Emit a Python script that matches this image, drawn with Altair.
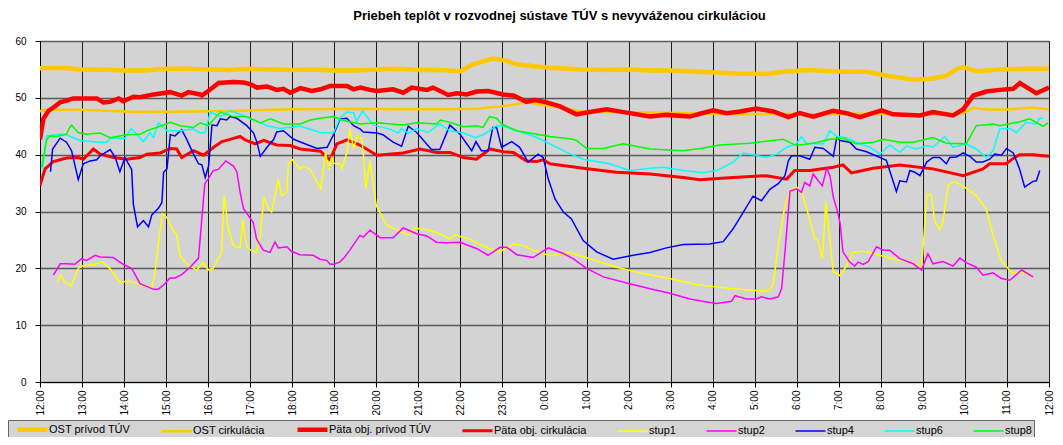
import json
import altair as alt
import pandas as pd

TITLE = "Priebeh teplôt v rozvodnej sústave TÚV s nevyváženou cirkuláciou"
SERIES = ["OST prívod TÚV", "OST cirkulácia", "Päta obj. prívod TÚV", "Päta obj. cirkulácia",
          "stup1", "stup2", "stup4", "stup6", "stup8"]
COLORS = ["#FFC800", "#FFC800", "#FF0000", "#FF0000", "#FFFF00", "#FF00FF", "#0000FF", "#00FFFF", "#00FF00"]
WIDTHS = [4.5, 2.5, 4.5, 3.0, 1.5, 1.5, 1.5, 1.5, 1.5]
TICK_LABELS = ["12:00", "13:00", "14:00", "15:00", "16:00", "17:00", "18:00", "19:00", "20:00", "21:00",
               "22:00", "23:00", "0:00", "1:00", "2:00", "3:00", "4:00", "5:00", "6:00", "7:00", "8:00",
               "9:00", "10:00", "11:00", "12:00"]
Y_TICKS = [0, 10, 20, 30, 40, 50, 60]

# hours after 12:00
OST_PRIVOD_H = [0, 0.5, 1, 1.5, 2, 2.5, 3, 3.5, 4, 4.5, 5, 5.5, 6, 6.5, 7, 7.5, 8, 8.5, 9, 9.5,
                10.0, 10.3, 10.78, 11.1, 11.33, 11.7, 12.13, 12.9, 13.5, 14, 14.5, 15, 15.7, 16.49,
                17.28, 17.67, 18.3, 19.1, 19.66, 20.15, 20.77, 21.24, 21.56, 21.8, 21.95, 22.27, 22.83,
                23.5, 24]
OST_PRIVOD_V = [55.2, 55.3, 55.0, 55.0, 54.8, 54.8, 55.1, 55.1, 55.0, 54.9, 55.1, 55.0, 54.9, 55.0,
                54.8, 54.8, 55.0, 55.1, 54.9, 54.9, 54.7, 55.9, 56.9, 56.5, 55.9, 55.6, 55.3, 55.0,
                54.9, 55.0, 54.8, 54.8, 54.6, 54.3, 54.2, 54.6, 54.9, 54.6, 54.6, 53.9, 53.2, 53.4,
                53.9, 55.0, 55.4, 54.7, 55.0, 55.1, 55.1]

OST_CIRK_H = [0, 0.1, 1, 2, 2.5, 3.5, 4.6, 6, 7.6, 8.5, 9.5, 10.4, 11.1, 11.6, 11.9, 12.4, 12.8, 13.5,
              14.5, 15.5, 16.5, 17.5, 18.5, 19.5, 20.5, 21.5, 21.95, 22.2, 22.6, 23.1, 23.6, 24]
OST_CIRK_V = [47.6, 47.9, 47.9, 47.6, 47.5, 47.6, 47.7, 48.0, 48.1, 48.0, 48.0, 48.1, 48.6, 49.2, 48.8,
              48.3, 47.7, 47.5, 47.4, 47.3, 47.1, 47.2, 47.1, 47.2, 47.1, 47.0, 47.3, 48.2, 47.9, 48.0,
              48.3, 48.0]

PATA_PRIVOD_H = [0, 0.08, 0.2, 0.32, 0.48, 0.63, 0.79, 1.35, 1.51, 1.67, 1.87, 1.98, 2.22, 2.38, 2.7,
                 3.1, 3.37, 3.53, 3.81, 3.85, 4.0, 4.25, 4.6, 4.84, 5.0, 5.16, 5.4, 5.63, 5.79, 5.95,
                 6.19, 6.47, 6.67, 6.9, 7.3, 7.46, 7.62, 7.85, 8.01, 8.4, 8.64, 8.84, 9.2, 9.35, 9.71,
                 9.91, 10.15, 10.38, 10.66, 11.02, 11.26, 11.57, 11.77, 12.05, 12.37, 12.76, 13.08,
                 13.48, 13.95, 14.51, 14.9, 15.46, 15.7, 16.01, 16.33, 16.65, 17.04, 17.44, 17.8,
                 18.07, 18.39, 18.87, 19.18, 19.5, 20.02, 20.29, 20.93, 21.24, 21.72, 21.96, 22.2,
                 22.51, 22.83, 23.15, 23.31, 23.7, 24.0]
PATA_PRIVOD_V = [42.7, 46.3, 47.7, 48.3, 49.2, 49.5, 49.9, 49.9, 49.2, 49.3, 49.9, 49.4, 50.2, 50.1,
                 50.6, 51.0, 50.4, 51.0, 50.6, 50.4, 51.2, 52.6, 52.8, 52.7, 52.4, 51.8, 52.0, 51.4,
                 51.6, 50.9, 51.7, 51.2, 51.5, 52.1, 52.1, 51.5, 51.8, 51.4, 51.2, 51.5, 50.9, 51.8,
                 51.4, 51.8, 50.5, 50.8, 50.6, 51.1, 51.2, 50.6, 50.4, 49.3, 49.6, 49.2, 48.5, 47.1,
                 47.5, 48.0, 47.4, 46.7, 47.0, 46.7, 47.2, 47.8, 47.3, 47.6, 48.1, 47.6, 46.6, 47.3,
                 46.7, 47.7, 47.3, 46.6, 47.8, 47.1, 46.9, 47.5, 46.9, 48.0, 50.4, 51.1, 51.4, 51.6,
                 52.6, 50.8, 51.8]

PATA_CIRK_H = [0, 0.12, 0.32, 0.63, 0.91, 1.03, 1.27, 1.43, 1.75, 2.06, 2.38, 2.54, 2.86, 3.1, 3.25,
               3.37, 3.65, 3.89, 4.13, 4.33, 4.52, 4.76, 4.88, 5.12, 5.32, 5.63, 5.95, 6.19, 6.67,
               6.83, 6.9, 7.06, 7.3, 7.61, 8.01, 8.64, 9.04, 9.44, 9.75, 10.07, 10.38, 10.7, 11.02,
               11.26, 11.57, 11.81, 11.97, 12.13, 12.92, 13.71, 14.51, 15.3, 15.69, 16.49, 17.28,
               17.76, 17.95, 18.31, 18.87, 19.1, 19.3, 19.82, 20.45, 21.24, 21.96, 22.43, 22.59,
               22.98, 23.14, 23.3, 23.62, 24.0]
PATA_CIRK_V = [34.6, 37.5, 38.8, 39.4, 39.5, 39.2, 41.0, 40.1, 39.5, 39.2, 39.5, 40.1, 40.3, 41.1,
               41.0, 39.5, 40.7, 39.9, 41.3, 42.3, 42.7, 43.2, 42.6, 41.9, 42.5, 41.7, 41.6, 41.0,
               40.6, 39.5, 39.1, 41.9, 42.6, 41.7, 39.9, 40.3, 41.0, 40.4, 40.4, 39.5, 39.2, 41.0,
               40.5, 40.4, 38.9, 38.8, 39.1, 38.4, 37.6, 36.9, 36.6, 36.0, 35.6, 36.0, 36.3, 35.7,
               37.2, 37.2, 37.8, 38.2, 36.8, 37.6, 38.2, 37.5, 36.3, 37.5, 38.4, 38.4, 39.3, 40.0,
               40.0, 39.7]

STUP1_H = [0.41, 0.49, 0.59, 0.75, 0.91, 1.03, 1.11, 1.31, 1.47, 1.66, 1.9, 2.02, 2.18, 2.38, 2.66,
           2.73, 2.81, 2.91, 3.01, 3.17, 3.25, 3.33, 3.49, 3.73, 3.88, 4.0, 4.12, 4.32, 4.38, 4.48,
           4.6, 4.76, 4.82, 4.91, 4.99, 5.15, 5.23, 5.33, 5.43, 5.51, 5.67, 5.75, 5.87, 5.91, 5.99,
           6.19, 6.27, 6.43, 6.59, 6.68, 6.79, 6.87, 6.94, 6.98, 7.14, 7.18, 7.3, 7.37, 7.46, 7.54,
           7.65, 7.69, 7.75, 7.85, 8.0, 8.24, 8.4, 8.76, 8.92, 9.2, 9.51, 9.75, 9.87, 10.23, 10.38,
           10.62, 10.9, 11.1, 11.26, 11.49, 11.73, 12.13, 12.6, 13.08, 13.71, 14.34, 14.98, 15.62,
           16.49, 17.28, 17.36, 17.44, 17.56, 17.72, 17.84, 18.0, 18.15, 18.27, 18.43, 18.51, 18.61,
           18.69, 18.87, 19.03, 19.19, 19.34, 19.58, 19.82, 20.13, 20.45, 20.77, 20.97, 21.1, 21.2,
           21.28, 21.39, 21.47, 21.6, 21.76, 22.03, 22.27, 22.5, 22.66, 22.86, 23.13, 23.37, 23.62]
STUP1_V = [17.5, 18.8, 17.6, 16.9, 20.0, 20.5, 20.5, 20.7, 21.2, 20.0, 17.5, 17.7, 17.7, 17.1, 16.7,
           18.8, 24.0, 29.6, 29.0, 26.7, 25.9, 22.2, 20.8, 19.7, 21.0, 19.7, 20.0, 22.8, 32.8, 27.0,
           24.0, 23.6, 28.6, 24.0, 23.3, 22.8, 25.5, 32.5, 30.5, 29.9, 35.7, 32.8, 33.4, 38.5, 39.2,
           37.5, 38.0, 37.4, 35.1, 34.0, 40.3, 37.4, 39.7, 38.5, 38.4, 37.5, 40.4, 44.5, 41.0, 43.3,
           42.8, 40.4, 34.0, 38.9, 31.0, 27.6, 27.1, 25.8, 27.1, 26.8, 26.1, 25.2, 25.9, 25.1, 24.5,
           23.7, 22.9, 23.5, 24.3, 24.0, 23.2, 22.2, 22.8, 21.7, 20.2, 19.1, 18.2, 17.1,
           16.4, 16.0, 16.2, 17.3, 24.0, 31.1, 33.7, 34.3, 32.8, 29.6, 25.2, 24.9, 21.7,
           31.6, 19.4, 18.7, 20.5, 22.8, 23.0, 22.6, 22.0, 21.4, 21.0, 20.2, 33.1, 32.9,
           28.4, 26.9, 27.8, 34.6, 35.3, 34.1, 32.8, 30.5, 26.1, 21.4, 19.1, 19.4, 18.5]

STUP2_H = [0.32, 0.48, 0.63, 0.83, 0.99, 1.11, 1.31, 1.43, 1.74, 1.98, 2.18, 2.38, 2.58, 2.7, 2.81,
           2.93, 3.09, 3.21, 3.37, 3.57, 3.77, 3.92, 4.0, 4.12, 4.24, 4.42, 4.6, 4.68, 4.76, 4.84,
           5.07, 5.15, 5.31, 5.47, 5.59, 5.67, 5.87, 5.98, 6.18, 6.5, 6.66, 6.82, 6.9, 6.98, 7.13,
           7.25, 7.37, 7.61, 7.69, 7.85, 8.09, 8.4, 8.64, 8.96, 9.2, 9.43, 9.67, 9.99, 10.38, 10.66,
           10.94, 11.1, 11.34, 11.73, 12.09, 12.45, 12.68, 13.0, 13.4, 14.03, 14.51, 14.98, 15.46,
           15.93, 16.09, 16.45, 16.53, 16.8, 17.04, 17.16, 17.36, 17.56, 17.64, 17.72, 17.84, 18.0,
           18.11, 18.19, 18.31, 18.39, 18.51, 18.61, 18.71, 18.79, 18.87, 18.95, 19.03, 19.1, 19.26,
           19.38, 19.46, 19.58, 19.7, 19.9, 20.06, 20.21, 20.45, 20.77, 20.97, 21.12, 21.24, 21.48,
           21.72, 21.88, 22.03, 22.27, 22.43, 22.67, 22.87, 23.07, 23.35, 23.62]
STUP2_V = [18.8, 20.8, 20.8, 20.7, 21.7, 21.4, 22.3, 22.0, 21.9, 20.7, 20.0, 17.3, 16.7, 16.3, 16.3,
           17.0, 18.3, 18.3, 18.9, 20.2, 21.8, 34.9, 35.7, 37.2, 37.4, 38.9, 38.0, 37.0, 33.4, 30.5,
           28.1, 25.2, 23.2, 22.8, 24.6, 23.6, 23.8, 23.0, 22.4, 22.3, 21.6, 21.4, 20.7, 20.7, 21.1,
           22.0, 23.2, 25.8, 25.5, 26.7, 25.4, 25.4, 27.1, 26.1, 25.7, 24.6, 24.5, 24.6, 23.5, 22.3,
           23.7, 23.7, 22.4, 21.9, 23.6, 22.6, 21.7, 20.0, 18.5, 17.3, 16.4, 15.6, 14.6,
           14.0, 13.8, 14.2, 15.2, 14.6, 14.6, 15.0, 14.6, 15.0, 16.4, 22.9, 33.6, 34.0,
           33.4, 35.1, 34.5, 36.6, 35.4, 34.5, 37.6, 36.3, 32.5, 30.5, 28.0, 22.9, 21.1,
           20.4, 21.1, 20.7, 21.2, 23.8, 23.2, 23.2, 21.7, 20.8, 19.7, 22.6, 20.8, 21.2,
           20.4, 21.8, 21.0, 20.2, 18.8, 19.2, 18.2, 17.9, 19.7, 18.5]

STUP4_H = [0.25, 0.3, 0.48, 0.63, 0.75, 0.91, 1.03, 1.19, 1.35, 1.43, 1.67, 1.79, 1.9, 2.02, 2.18,
           2.22, 2.32, 2.46, 2.58, 2.66, 2.82, 2.9, 2.94, 3.02, 3.1, 3.21, 3.37, 3.49, 3.65, 3.77,
           3.85, 3.93, 4.01, 4.09, 4.21, 4.29, 4.44, 4.52, 4.68, 4.92, 5.08, 5.16, 5.24, 5.4, 5.56,
           5.63, 5.79, 6.03, 6.27, 6.59, 6.83, 6.98, 7.14, 7.3, 7.46, 7.62, 7.69, 8.01, 8.16, 8.4,
           8.6, 8.76, 8.96, 9.31, 9.51, 9.75, 9.99, 10.27, 10.37, 10.5, 10.66, 10.77, 10.86, 10.98,
           11.22, 11.41, 11.61, 11.85, 11.97, 12.09, 12.25, 12.45, 12.64, 12.92, 13.24, 13.63,
           14.11, 14.51, 14.9, 15.3, 15.93, 16.25, 16.49, 16.73, 16.96, 17.16, 17.36, 17.56, 17.72,
           17.8, 17.88, 18.07, 18.31, 18.43, 18.63, 18.87, 18.95, 19.03, 19.26, 19.42, 19.66,
           19.98, 20.13, 20.25, 20.37, 20.45, 20.61, 20.69, 20.81, 20.93, 21.09, 21.24, 21.4, 21.56,
           21.64, 21.8, 21.96, 22.12, 22.27, 22.43, 22.59, 22.71, 22.87, 22.99, 23.15, 23.3, 23.42,
           23.62, 23.7, 23.78]
STUP4_V = [37.0, 41.0, 42.9, 42.2, 40.7, 35.6, 38.4, 38.9, 39.1, 39.8, 40.9, 39.5, 37.0, 39.5, 37.4,
           31.3, 27.3, 28.4, 27.3, 29.4, 30.6, 31.6, 36.9, 37.5, 43.5, 43.3, 44.4, 42.7, 40.1, 38.4,
           38.2, 36.0, 38.0, 45.2, 45.1, 46.3, 46.1, 46.7, 46.4, 45.1, 43.8, 42.2, 39.7, 41.3, 42.7,
           44.0, 44.2, 42.7, 42.0, 41.1, 41.3, 43.5, 46.3, 46.4, 45.1, 44.5, 44.0, 43.8, 43.5, 42.2,
           41.5, 45.0, 43.9, 40.9, 40.9, 45.2, 43.6, 40.7, 42.3, 40.7, 40.7, 44.8, 44.8, 41.3,
           42.3, 41.3, 38.7, 40.1, 39.5, 35.7, 32.2, 29.9, 28.7, 24.9, 22.9, 21.6,
           22.3, 22.8, 23.6, 24.2, 24.3, 24.7, 27.0, 29.9, 32.7, 31.9, 33.9, 34.9, 36.3,
           38.9, 39.8, 39.8, 39.2, 41.3, 41.1, 39.7, 43.0, 42.5, 42.2, 41.0, 40.5,
           39.5, 39.0, 36.3, 33.5, 35.4, 35.2, 37.2, 36.9, 36.3, 38.7, 39.5, 39.5, 38.4,
           39.5, 39.6, 40.3, 39.7, 38.7, 38.7, 39.2, 40.1, 39.9, 41.1, 40.3, 37.5, 34.3,
           35.3, 35.4, 37.2]

STUP6_H = [0.06, 0.16, 0.48, 0.63, 0.95, 1.43, 1.59, 1.67, 2.02, 2.17, 2.46, 2.62, 2.7, 2.82, 3.02,
           3.33, 3.65, 3.81, 3.93, 4.05, 4.29, 4.52, 4.76, 5.08, 5.4, 5.71, 6.19, 6.67, 6.98, 7.14,
           7.3, 7.46, 7.53, 7.67, 7.93, 8.32, 8.52, 8.6, 8.76, 8.96, 9.23, 9.51, 9.75, 10.07, 10.35,
           10.54, 10.86, 11.02, 11.34, 11.65, 11.97, 12.53, 12.92, 13.55, 14.03, 14.51, 14.82, 15.3,
           15.77, 16.09, 16.49, 16.73, 16.96, 17.28, 17.52, 17.76, 17.99, 18.11, 18.23, 18.63,
           18.79, 18.95, 19.19, 19.5, 19.74, 19.98, 20.21, 20.45, 20.61, 20.85, 21.09, 21.24, 21.52,
           21.72, 22.03, 22.27, 22.51, 22.67, 22.83, 23.07, 23.23, 23.46, 23.7, 23.78, 23.86]
STUP6_V = [37.5, 43.3, 43.6, 43.5, 42.5, 42.2, 42.2, 42.9, 42.9, 44.6, 42.3, 43.9, 43.0, 45.6, 44.2,
           44.2, 44.5, 43.8, 43.9, 47.5, 46.7, 47.7, 47.1, 46.1, 45.1, 44.6, 45.0, 43.9, 43.8, 46.5,
           47.5, 47.4, 45.8, 47.7, 45.2, 44.5, 43.8, 44.6, 43.8, 44.6, 43.9, 45.4, 44.2, 43.8, 43.0,
           43.5, 45.1, 45.0, 44.2, 43.5, 42.5, 40.4, 39.2, 38.4, 37.2, 37.6, 37.8, 37.2,
           36.8, 37.2, 38.7, 40.3, 40.0, 39.5, 40.1, 41.3, 41.9, 43.2, 42.0, 41.9,
           44.2, 43.2, 43.0, 41.9, 41.3, 40.1, 41.7, 40.4, 41.5, 41.0, 41.6, 41.3, 43.2,
           41.3, 41.9, 41.0, 39.5, 40.7, 44.5, 44.6, 43.9, 45.7, 45.4, 46.4, 46.4]

STUP8_H = [0.04, 0.16, 0.24, 0.4, 0.63, 0.71, 0.75, 0.91, 1.11, 1.43, 1.67, 2.06, 2.38, 2.54, 2.86,
           3.1, 3.33, 3.65, 3.81, 4.0, 4.29, 4.6, 4.92, 5.24, 5.48, 5.79, 6.19, 6.43, 6.67, 6.98,
           7.22, 7.62, 8.01, 8.64, 8.96, 9.44, 9.52, 9.75, 10.07, 10.38, 10.54, 10.69, 10.86, 10.98,
           11.34, 12.13, 12.68, 12.76, 13.0, 13.4, 13.87, 14.51, 15.3, 15.7, 16.17, 16.88, 17.68,
           17.99, 18.39, 18.79, 19.1, 19.42, 19.82, 20.06, 20.45, 20.77, 21.24, 21.56, 22.03,
           22.27, 22.67, 22.83, 23.3, 23.54, 23.86, 23.98]
STUP8_V = [37.8, 42.7, 43.3, 43.2, 43.6, 44.8, 45.2, 43.9, 43.6, 43.8, 43.0, 43.5, 43.6, 44.2, 45.0,
           45.7, 45.1, 44.8, 45.6, 45.1, 47.5, 46.7, 46.7, 45.6, 46.3, 45.4, 45.4, 46.1, 46.4, 46.7,
           46.0, 45.4, 45.6, 45.2, 45.6, 45.4, 46.1, 45.7, 44.9, 45.1, 44.8, 46.7, 46.4, 45.4,
           44.2, 43.2, 42.7, 42.5, 41.1, 41.1, 41.9, 41.0, 40.7, 41.1, 41.7, 42.0, 42.7,
           41.6, 42.0, 42.7, 42.9, 41.9, 42.2, 42.7, 42.2, 42.2, 43.0, 42.0, 41.9,
           45.1, 45.4, 45.1, 45.8, 46.3, 45.0, 45.6]

SERIES_DATA = [
    (OST_PRIVOD_H, OST_PRIVOD_V), (OST_CIRK_H, OST_CIRK_V),
    (PATA_PRIVOD_H, PATA_PRIVOD_V), (PATA_CIRK_H, PATA_CIRK_V),
    (STUP1_H, STUP1_V), (STUP2_H, STUP2_V), (STUP4_H, STUP4_V),
    (STUP6_H, STUP6_V), (STUP8_H, STUP8_V),
]

rows = []
for name, (hs, vs) in zip(SERIES, SERIES_DATA):
    assert len(hs) == len(vs), name
    for h, v in zip(hs, vs):
        rows.append({"series": name, "h": h, "v": v})
df = pd.DataFrame(rows)

FONT = "Liberation Sans"
label_expr = json.dumps(TICK_LABELS) + "[round(datum.value)]"

x_enc = alt.X("h:Q", scale=alt.Scale(domain=[0, 24], nice=False, zero=False),
              axis=alt.Axis(values=list(range(len(TICK_LABELS))), labelExpr=label_expr,
                            labelAngle=270, title=None, grid=True, gridColor="#1a1a1a",
                            gridWidth=1, tickSize=5, tickColor="#000", domainColor="#000",
                            labelFont=FONT, labelFontSize=10, labelColor="#000",
                            labelPadding=3, labelOverlap=False))
y_enc = alt.Y("v:Q", scale=alt.Scale(domain=[0, 60], nice=False),
              axis=alt.Axis(values=Y_TICKS, title=None, grid=True, gridColor="#5a5a5a",
                            gridWidth=1.5, tickSize=5, tickColor="#000", domainColor="#000",
                            labelFont=FONT, labelFontSize=10, labelColor="#000",
                            labelPadding=9))
# legend symbol: a 30px horizontal stroke drawn from a small (10px) symbol slot
color_enc = alt.Color("series:N", scale=alt.Scale(domain=SERIES, range=COLORS),
                      legend=alt.Legend(title=None, orient="none", legendX=-32, legendY=379,
                                        direction="horizontal", columns=9,
                                        symbolType="M-1,0H5", symbolSize=100,
                                        labelFont=FONT, labelFontSize=11, labelColor="#000",
                                        columnPadding=23, labelOffset=19, padding=2,
                                        fillColor="#D4D4D4", strokeColor="#666",
                                        symbolOffset=5))
width_enc = alt.StrokeWidth("series:N",
                            scale=alt.Scale(type="ordinal", domain=SERIES, range=WIDTHS))

base = alt.Chart(df)
layers = []
for name in SERIES:
    layers.append(
        base.transform_filter(alt.datum.series == name)
        .mark_line(clip=True)
        .encode(x=x_enc, y=y_enc, color=color_enc, strokeWidth=width_enc, order="h:Q")
    )

chart = alt.layer(*layers).properties(
    width=1009, height=341,
    title=alt.TitleParams(text=TITLE, font=FONT, fontSize=13, fontWeight="bold",
                          anchor="middle", offset=13, dx=15, color="#000"),
    padding={"left": 32, "top": 33, "right": 6, "bottom": 55},
    autosize=alt.AutoSizeParams(type="none"),
    background="#FFFFFF",
).configure_view(fill="#D3D3D3", stroke="#000", strokeWidth=1)

chart.save("out.html", embed_options={"renderer": "svg", "actions": False})
